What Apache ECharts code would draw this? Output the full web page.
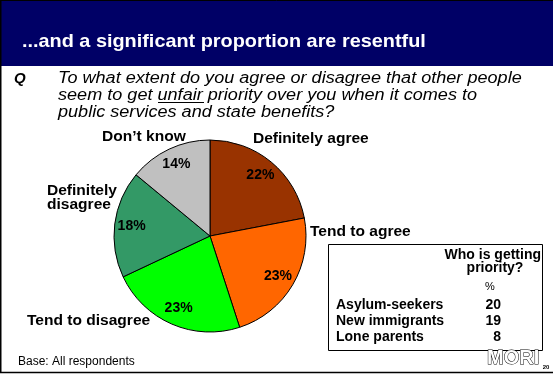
<!DOCTYPE html>
<html><head><meta charset="utf-8">
<script src="https://cdn.jsdelivr.net/npm/echarts@6/dist/echarts.min.js"></script>
<style>html,body{margin:0;padding:0;background:#fff}#c{width:555px;height:385px}</style>
</head><body><div id="c"></div>
<script>
const titleText = '...and a significant proportion are resentful';
const questionLines = ['To what extent do you agree or disagree that other people', 'seem to get unfair priority over you when it comes to', 'public services and state benefits?'];
const categories = ['Definitely agree', 'Tend to agree', 'Tend to disagree', 'Definitely disagree', 'Don\u2019t know'];
const values = [22, 23, 23, 18, 14];
const colors = ['#993300', '#FF6600', '#00FF00', '#339966', '#C0C0C0'];
const tableHeader = ['Who is getting', 'priority?'];
const tableRows = ['Asylum-seekers', 'New immigrants', 'Lone parents'];
const tableValues = [20, 19, 8];

const chart = echarts.init(document.getElementById('c'), null, {renderer: 'canvas'});
const F = 'Liberation Sans, Arial, sans-serif';
const labelFont = {fontFamily: F, fontWeight: 'bold', fontSize: 14, fill: '#000'};

const catPos = [
  {x: 253, y: 139, text: categories[0]},
  {x: 310, y: 232, text: categories[1]},
  {x: 27, y: 321, text: categories[2]},
  {x: 47, y: 198, text: 'Definitely\ndisagree'},
  {x: 102, y: 137, text: categories[4]}
];

const graphics = [
  {type: 'rect', shape: {x: 0, y: 0, width: 553, height: 66}, style: {fill: '#000066'}},
  {type: 'line', shape: {x1: 0, y1: 0.5, x2: 553, y2: 0.5}, style: {stroke: '#000', lineWidth: 1}},
  {type: 'line', shape: {x1: 0.5, y1: 0, x2: 0.5, y2: 373}, style: {stroke: '#000', lineWidth: 2}},
  {type: 'line', shape: {x1: 0, y1: 372.5, x2: 553, y2: 372.5}, style: {stroke: '#000', lineWidth: 1.5}},
  {type: 'text', x: 22, y: 42, scaleX: 1.045, style: {text: titleText, fill: '#fff', fontFamily: F, fontWeight: 'bold', fontSize: 19, textVerticalAlign: 'middle'}},
  {type: 'text', x: 14, y: 79, style: {text: 'Q', fill: '#000', fontFamily: F, fontStyle: 'italic', fontWeight: 'bold', fontSize: 15, textVerticalAlign: 'middle'}},
  {type: 'line', shape: {x1: 158, y1: 102.5, x2: 204, y2: 102.5}, style: {stroke: '#000', lineWidth: 1}},
  {type: 'rect', shape: {x: 328.5, y: 244.5, width: 214, height: 106}, style: {fill: '#fff', stroke: '#000', lineWidth: 1}},
  {type: 'text', x: 541, y: 255, style: {text: tableHeader[0], fill: '#000', fontFamily: F, fontWeight: 'bold', fontSize: 14, textAlign: 'right', textVerticalAlign: 'middle'}},
  {type: 'text', x: 495, y: 268, style: {text: tableHeader[1], fill: '#000', fontFamily: F, fontWeight: 'bold', fontSize: 14, textAlign: 'center', textVerticalAlign: 'middle'}},
  {type: 'text', x: 490, y: 287, style: {text: '%', fill: '#000', fontFamily: F, fontSize: 11, textAlign: 'center', textVerticalAlign: 'middle'}},
  {type: 'text', x: 18, y: 362, style: {text: 'Base: All respondents', fill: '#000', fontFamily: F, fontSize: 12, textVerticalAlign: 'middle'}},
  {type: 'text', x: 487, y: 358, scaleX: 1.0, style: {text: 'MORI', fill: '#fff', stroke: '#000', lineWidth: 1, fontFamily: F, fontWeight: 'bold', fontSize: 20, textVerticalAlign: 'middle'}},
  {type: 'text', x: 546, y: 367, style: {text: '20', fill: '#000', fontFamily: F, fontWeight: 'bold', fontSize: 6, textAlign: 'center', textVerticalAlign: 'middle'}}
];
questionLines.forEach((t, i) => {
  graphics.push({type: 'text', x: 58, y: 79 + i * 17, scaleX: 1.13, style: {text: t, fill: '#000', fontFamily: F, fontStyle: 'italic', fontSize: 16, textVerticalAlign: 'middle'}});
});
catPos.forEach(p => {
  graphics.push({type: 'text', x: p.x, y: p.y, scaleX: 1.11, style: Object.assign({text: p.text, textVerticalAlign: 'middle', lineHeight: 14}, labelFont)});
});
tableRows.forEach((t, i) => {
  const y = 305 + i * 16;
  graphics.push({type: 'text', x: 336, y: y, style: {text: t, fill: '#000', fontFamily: F, fontWeight: 'bold', fontSize: 14, textVerticalAlign: 'middle'}});
  graphics.push({type: 'text', x: 501, y: y, style: {text: String(tableValues[i]), fill: '#000', fontFamily: F, fontWeight: 'bold', fontSize: 14, textAlign: 'right', textVerticalAlign: 'middle'}});
});

const pieData = categories.map((c, i) => ({name: c, value: values[i], itemStyle: {color: colors[i]}}));

chart.setOption({
  animation: false,
  backgroundColor: '#fff',
  graphic: graphics,
  series: [
    {
      type: 'pie', center: [210, 236], radius: [0, 96], startAngle: 90, clockwise: true,
      silent: true,
      itemStyle: {borderColor: '#000', borderWidth: 1},
      label: {show: false}, labelLine: {show: false},
      data: pieData
    },
    {
      type: 'pie', center: [210, 236], radius: [0, 152], startAngle: 90, clockwise: true,
      silent: true, z: 3,
      itemStyle: {color: 'rgba(0,0,0,0)', borderWidth: 0},
      label: {show: true, position: 'inside', formatter: p => p.value + '%', color: '#000', fontFamily: F, fontWeight: 'bold', fontSize: 14},
      labelLine: {show: false},
      data: categories.map((c, i) => ({name: c, value: values[i]}))
    }
  ]
});
</script></body></html>
